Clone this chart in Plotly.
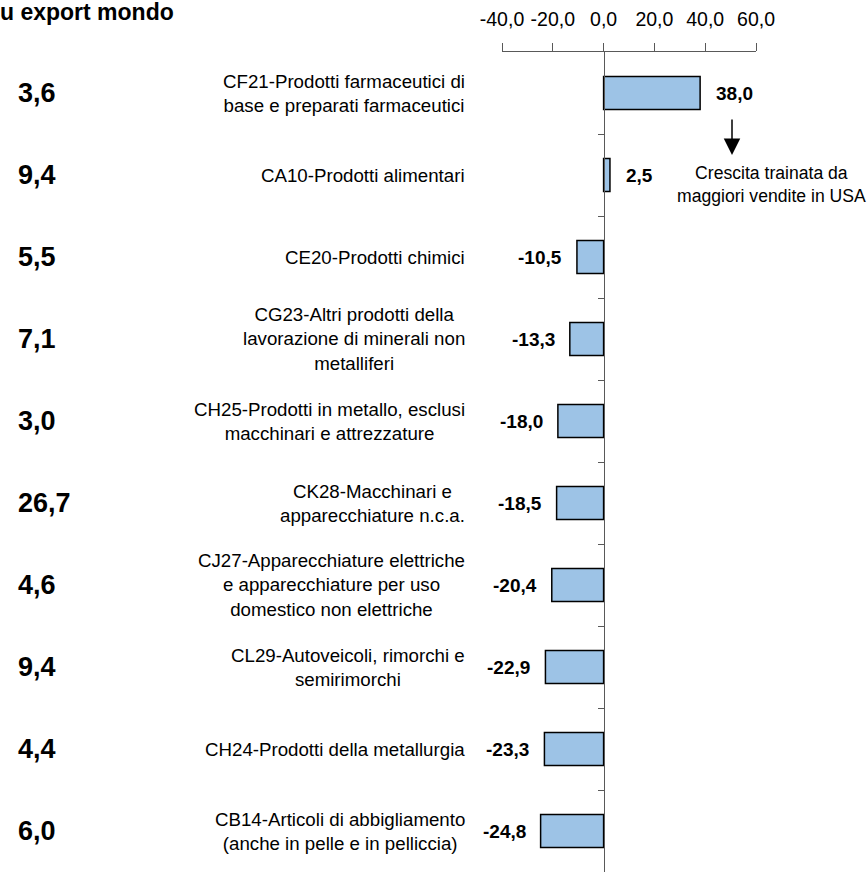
import plotly.graph_objects as go

# dati
categorie = [
    "CF21-Prodotti farmaceutici di<br>base e preparati farmaceutici",
    "CA10-Prodotti alimentari",
    "CE20-Prodotti chimici",
    "CG23-Altri prodotti della<br>lavorazione di minerali non<br>metalliferi",
    "CH25-Prodotti in metallo, esclusi<br>macchinari e attrezzature",
    "CK28-Macchinari e<br>apparecchiature n.c.a.",
    "CJ27-Apparecchiature elettriche<br>e apparecchiature per uso<br>domestico non elettriche",
    "CL29-Autoveicoli, rimorchi e<br>semirimorchi",
    "CH24-Prodotti della metallurgia",
    "CB14-Articoli di abbigliamento<br>(anche in pelle e in pelliccia)",
]
variazione = [38.0, 2.5, -10.5, -13.3, -18.0, -18.5, -20.4, -22.9, -23.3, -24.8]
quota_export = [3.6, 9.4, 5.5, 7.1, 3.0, 26.7, 4.6, 9.4, 4.4, 6.0]
x_ticks = [-40, -20, 0, 20, 40, 60]

FONT = "Liberation Sans, Arial, sans-serif"
W, H = 868, 872
L, R, T, B = 502, 112, 52, 0
PW = W - L - R
PH = H - T - B


def px_x(px):
    return (px - L) / PW


def px_y(py):
    return (H - B - py) / PH


def fmt(v):
    return f"{v:.1f}".replace(".", ",")


righe = list(range(len(categorie)))

fig = go.Figure(
    go.Bar(
        x=variazione,
        y=righe,
        orientation="h",
        width=0.4,
        marker=dict(color="#9DC3E6", line=dict(color="#000000", width=1.5)),
        hoverinfo="skip",
    )
)

# etichette valori
for r, v in zip(righe, variazione):
    fig.add_annotation(
        x=v, y=r, xref="x", yref="y",
        text=f"<b>{fmt(v)}</b>",
        showarrow=False,
        xanchor="left" if v >= 0 else "right", yanchor="middle",
        xshift=14 if v >= 0 else -13,
        font=dict(family=FONT, size=19, color="#000000"),
    )

# etichette categorie
for r, c in zip(righe, categorie):
    fig.add_annotation(
        x=px_x(467), y=r, xref="paper", yref="y",
        text=c, showarrow=False,
        xanchor="right", yanchor="middle", align="center",
        font=dict(family=FONT, size=18.7, color="#000000"),
    )

# quota su export mondo
for r, q in zip(righe, quota_export):
    fig.add_annotation(
        x=px_x(16), y=r, xref="paper", yref="y",
        text=f"<b>{fmt(q)}</b>", showarrow=False,
        xanchor="left", yanchor="middle",
        font=dict(family=FONT, size=27, color="#000000"),
    )

fig.add_annotation(
    x=px_x(-2), y=px_y(12), xref="paper", yref="paper",
    text="<b>u export mondo</b>", showarrow=False,
    xanchor="left", yanchor="middle",
    font=dict(family=FONT, size=23, color="#000000"),
)

# nota con freccia
fig.add_annotation(
    x=px_x(732), y=px_y(155), xref="paper", yref="paper",
    text="", showarrow=True, ax=0, ay=-37,
    arrowhead=2, arrowsize=2.2, arrowwidth=1.5, arrowcolor="#000000",
)
fig.add_annotation(
    x=px_x(771), y=px_y(184), xref="paper", yref="paper",
    text="Crescita trainata da<br>maggiori vendite in USA",
    showarrow=False, align="center",
    xanchor="center", yanchor="middle",
    font=dict(family=FONT, size=17.6, color="#000000"),
)

fig.update_layout(
    width=W, height=H,
    margin=dict(l=L, r=R, t=T, b=B),
    plot_bgcolor="white", paper_bgcolor="white",
    showlegend=False,
    font=dict(family=FONT, color="#000000"),
    xaxis=dict(
        side="top", range=[-40, 60],
        tickvals=x_ticks, ticktext=[fmt(t) for t in x_ticks],
        ticks="outside", ticklen=8, tickcolor="#595959",
        showline=True, linecolor="#595959", linewidth=1,
        showgrid=False, zeroline=False,
        tickfont=dict(family=FONT, size=19.5, color="#000000"),
        ticklabelstandoff=9,
    ),
    yaxis=dict(
        range=[9.5, -0.5], anchor="free", position=0.4,
        tickvals=[r + 0.5 for r in righe[:-1]],
        showticklabels=False,
        ticks="outside", ticklen=6, tickcolor="#595959",
        showline=True, linecolor="#595959", linewidth=1,
        showgrid=False, zeroline=False,
    ),
)

# niente margine del body: la figura parte da (0, 0)
fig.write_html(
    "out.html",
    config={"displayModeBar": False},
    post_script="document.body.style.margin = '0';",
)
